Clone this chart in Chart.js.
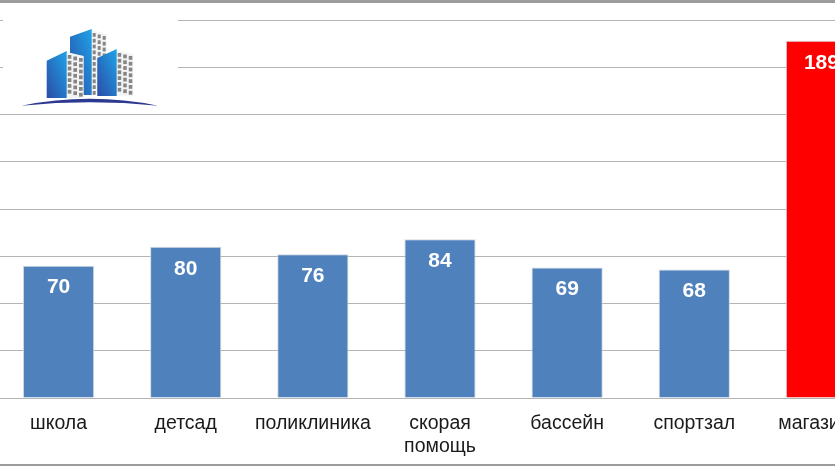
<!DOCTYPE html>
<html>
<head>
<meta charset="utf-8">
<script src="https://cdn.jsdelivr.net/npm/chart.js@4"></script>
<style>
  html, body { margin: 0; padding: 0; background: #fff; }
  #wrap { position: relative; width: 835px; height: 467px; overflow: hidden; background: #fff; }
  #chartBox { position: absolute; left: -5.5px; top: 0; width: 890px; height: 467px; }
  #logo { position: absolute; left: 3px; top: 4px; }
  .edge { position: absolute; left: 0; width: 835px; background: #9c9c9c; }
</style>
</head>
<body>
<div id="wrap">
  <div id="chartBox"><canvas id="c"></canvas></div>
  <svg id="logo" width="175" height="106" viewBox="0 0 175 106" xmlns="http://www.w3.org/2000/svg">
    <defs>
      <linearGradient id="blue" x1="1" y1="0" x2="0" y2="1">
        <stop offset="0" stop-color="#1ea3e8"/>
        <stop offset="1" stop-color="#2c4ca6"/>
      </linearGradient>
    </defs>
    <rect x="0" y="0" width="175" height="106" fill="#fff"/>
    <g id="bldg"></g>
    <path d="M18.7,101.7 Q87,88 155,101.7 Q87,95 18.7,101.7 Z" fill="#2b3990"/>
  </svg>
  <div class="edge" style="top:0;height:3px"></div>
  <div class="edge" style="top:464px;height:2px"></div>
</div>
<script>
// data
const categories = ['школа', 'детсад', 'поликлиника', ['скорая', 'помощь'], 'бассейн', 'спортзал', 'магазины'];
const values = [70, 80, 76, 84, 69, 68, 189];
const barColors = ['#4f81bd', '#4f81bd', '#4f81bd', '#4f81bd', '#4f81bd', '#4f81bd', '#ff0000'];
const yMax = 200;
const yStep = 25;

// logo: three buildings, back one first (svg coords = page coords - (3,4))
const buildings = [
  { x0: 67, x1: 88.7, topL: 32.7, topR: 25, bottom: 91, side: 15, cols: 3 },
  { x0: 43.7, x1: 63.7, topL: 56.7, topR: 47, bottom: 94, side: 17, cols: 3 },
  { x0: 94.3, x1: 113.7, topL: 54, topR: 45, bottom: 92, side: 16.6, cols: 3 }
];
const svgNS = 'http://www.w3.org/2000/svg';
const g = document.getElementById('bldg');
buildings.forEach(b => {
  const side = document.createElementNS(svgNS, 'polygon');
  side.setAttribute('points', `${b.x1},${b.topR + 1} ${b.x1 + b.side},${b.topR + 5} ${b.x1 + b.side},${b.bottom} ${b.x1},${b.bottom}`);
  side.setAttribute('fill', '#f4f4f4');
  g.appendChild(side);
  const cw = b.side / b.cols;
  for (let c = 0; c < b.cols; c++) {
    for (let y = b.topR + 4 + c * 1.5; y < b.bottom - 4; y += 5.8) {
      const r = document.createElementNS(svgNS, 'rect');
      r.setAttribute('x', b.x1 + c * cw + 1);
      r.setAttribute('y', y);
      r.setAttribute('width', cw - 2);
      r.setAttribute('height', 3.8);
      r.setAttribute('fill', '#858585');
      g.appendChild(r);
    }
  }
  const front = document.createElementNS(svgNS, 'polygon');
  front.setAttribute('points', `${b.x0},${b.topL} ${b.x1},${b.topR} ${b.x1},${b.bottom} ${b.x0},${b.bottom}`);
  front.setAttribute('fill', 'url(#blue)');
  g.appendChild(front);
});

// white value labels inside the top of each bar
const valueLabels = {
  id: 'valueLabels',
  afterDatasetsDraw(chart) {
    const ctx = chart.ctx;
    const meta = chart.getDatasetMeta(0);
    ctx.save();
    ctx.fillStyle = '#ffffff';
    ctx.font = 'bold 21px "Liberation Sans", Arial, sans-serif';
    ctx.textAlign = 'center';
    ctx.textBaseline = 'middle';
    meta.data.forEach((bar, i) => {
      ctx.fillText(String(values[i]), bar.x, bar.y + 22);
    });
    ctx.restore();
  }
};

new Chart(document.getElementById('c'), {
  type: 'bar',
  data: {
    labels: categories,
    datasets: [{
      data: values,
      backgroundColor: barColors,
      borderColor: 'rgba(205,210,218,0.9)',
      borderWidth: 1,
      barPercentage: 0.56,
      categoryPercentage: 1
    }]
  },
  options: {
    responsive: true,
    maintainAspectRatio: false,
    animation: false,
    layout: { padding: { top: 20, left: 0, right: 0, bottom: 0 } },
    plugins: { legend: { display: false }, tooltip: { enabled: false } },
    scales: {
      x: {
        grid: { display: false },
        border: { display: false },
        ticks: {
          color: '#1a1a1a',
          padding: 6,
          maxRotation: 0,
          autoSkip: false,
          font: { family: '"Liberation Sans", Arial, sans-serif', size: 19.5, lineHeight: 1.2 }
        },
        afterFit(s) { s.height = 69; }
      },
      y: {
        min: 0,
        max: yMax,
        ticks: { display: false, stepSize: yStep },
        grid: { color: '#b4b4b4', lineWidth: 1, drawTicks: false },
        border: { display: false },
        afterFit(s) { s.width = 0; }
      }
    }
  },
  plugins: [valueLabels]
});
</script>
</body>
</html>
